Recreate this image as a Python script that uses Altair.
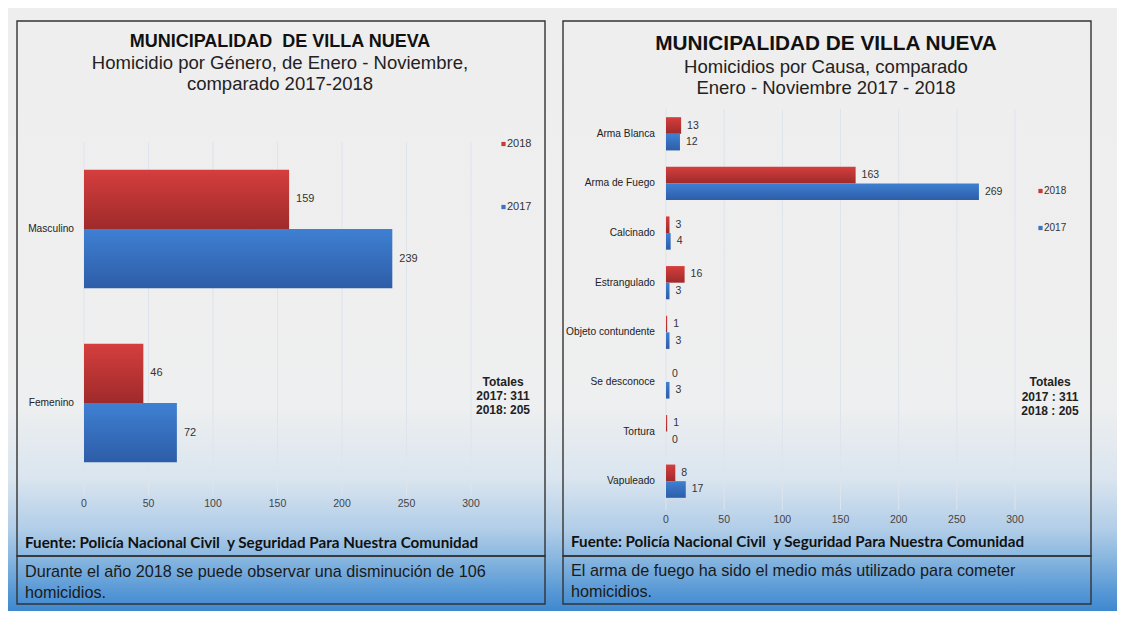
import altair as alt
import pandas as pd

# ---------------- data ----------------
genders = ["Masculino", "Femenino"]
gender_2018 = [159, 46]
gender_2017 = [239, 72]

causes = ["Arma Blanca", "Arma de Fuego", "Calcinado", "Estrangulado",
          "Objeto contundente", "Se desconoce", "Tortura", "Vapuleado"]
cause_2018 = [13, 163, 3, 16, 1, 0, 1, 8]
cause_2017 = [12, 269, 4, 3, 3, 3, 0, 17]

years = ["2018", "2017"]
x_ticks = [0, 50, 100, 150, 200, 250, 300]

title_left = "MUNICIPALIDAD\u00a0 DE VILLA NUEVA"
subtitle_left = ["Homicidio por Género, de Enero - Noviembre,", "comparado 2017-2018"]
title_right = "MUNICIPALIDAD DE VILLA NUEVA"
subtitle_right = ["Homicidios por Causa, comparado", "Enero - Noviembre 2017 - 2018"]
totals_left = ["Totales", "2017: 311", "2018: 205"]
totals_right = ["Totales", "2017 : 311", "2018 : 205"]
source_text = "Fuente: Policía Nacional Civil\u00a0 y Seguridad Para Nuestra Comunidad"
caption_left = ["Durante el año 2018 se puede observar una disminución de 106", "homicidios."]
caption_right = ["El arma de fuego ha sido el medio más utilizado para cometer", "homicidios."]

# ---------------- styles ----------------
FONT = "Liberation Sans"
RED = "#c73838"
BLUE = "#3a74c2"
W, H = 1109, 603

def vgrad(stops):
    return alt.LinearGradient(
        gradient="linear", x1=0, x2=0, y1=0, y2=1,
        stops=[alt.GradientStop(offset=o, color=c) for o, c in stops])

bar_fill = {
    "2018": vgrad([(0, "#d53e3e"), (1, "#9f2a2a")]),
    "2017": vgrad([(0, "#3f80d2"), (1, "#2d5da8")]),
}

one = pd.DataFrame({"k": [0]})


def deco_text(text, x, y, size, weight="normal", align="center", font=FONT, color="#1a1a1a"):
    return alt.Chart(one).mark_text(
        text=text, fontSize=size, fontWeight=weight, align=align, baseline="middle",
        font=font, color=color
    ).encode(x=alt.value(x), y=alt.value(y))


def box(x1, x2, y1, y2):
    return alt.Chart(one).mark_rect(fill="transparent", stroke="#333333", strokeWidth=1.4).encode(
        x=alt.value(x1), x2=alt.value(x2), y=alt.value(y1), y2=alt.value(y2))


def panel(cats, v2018, v2017, xr, yr, pad_in, grid_y2, tick_y, label_x,
          label_size, value_size, value_dx):
    df = pd.DataFrame({
        "cat": cats * 2,
        "year": ["2018"] * len(cats) + ["2017"] * len(cats),
        "value": v2018 + v2017,
    })
    xs = alt.Scale(domain=[0, 300], range=xr, nice=False, zero=True)
    ys = alt.Scale(domain=cats, range=yr, paddingInner=pad_in, paddingOuter=pad_in / 2)
    yo = alt.Scale(domain=years, paddingInner=0, paddingOuter=0)
    ticks_df = pd.DataFrame({"t": x_ticks})

    grid = alt.Chart(ticks_df).mark_rule(stroke="#dde4ec", strokeWidth=1).encode(
        x=alt.X("t:Q", scale=xs, axis=None),
        y=alt.value(yr[0]), y2=alt.value(grid_y2))
    tick_text = alt.Chart(ticks_df).mark_text(
        fontSize=10.5, color="#444444", font=FONT, baseline="middle").encode(
        x=alt.X("t:Q", scale=xs, axis=None), y=alt.value(tick_y), text="t:Q")

    layers = [grid, tick_text]
    for yv in years:
        layers.append(
            alt.Chart(df).transform_filter(alt.datum.year == yv).mark_bar(
                fill=bar_fill[yv]).encode(
                x=alt.X("value:Q", scale=xs, axis=None),
                y=alt.Y("cat:N", scale=ys, axis=None),
                yOffset=alt.YOffset("year:N", scale=yo)))
    layers.append(
        alt.Chart(df).mark_text(align="left", baseline="middle", dx=value_dx,
                                fontSize=value_size, color="#333333", font=FONT).encode(
            x=alt.X("value:Q", scale=xs, axis=None),
            y=alt.Y("cat:N", scale=ys, axis=None),
            yOffset=alt.YOffset("year:N", scale=yo),
            text="value:Q"))
    layers.append(
        alt.Chart(pd.DataFrame({"cat": cats})).mark_text(
            align="right", baseline="middle", fontSize=label_size, color="#222222",
            font=FONT).encode(
            x=alt.value(label_x),
            y=alt.Y("cat:N", scale=ys, axis=None),
            text="cat:N"))
    return alt.layer(*layers)


def legend(x, ys_, size):
    out = []
    for yv, yy in zip(years, ys_):
        out.append(alt.Chart(one).mark_square(size=18, color=RED if yv == "2018" else BLUE,
                                              opacity=1).encode(
            x=alt.value(x), y=alt.value(yy)))
        out.append(deco_text(yv, x + 3.5, yy, size, align="left", color="#333333"))
    return out


# background
bg = alt.Chart(one).mark_rect(fill=vgrad([
    (0.0, "#eeeeee"), (0.66, "#eeeff0"), (0.78, "#dae5ef"),
    (0.865, "#b1cde8"), (0.915, "#86b5df"), (0.97, "#5597d5"), (1.0, "#3f88cf")])).encode(
    x=alt.value(0), x2=alt.value(W), y=alt.value(0), y2=alt.value(H))

left = panel(genders, gender_2018, gender_2017, xr=[76, 463], yr=[134, 482], pad_in=0.32,
             grid_y2=488, tick_y=496, label_x=66, label_size=10.2, value_size=11, value_dx=7)
right = panel(causes, cause_2018, cause_2017, xr=[658, 1007], yr=[101, 498], pad_in=0.33,
              grid_y2=502, tick_y=512, label_x=647, label_size=10.2, value_size=10.5, value_dx=6)

texts = []
# left titles
texts.append(deco_text(title_left, 272, 34, 18, weight="bold", color="#111111"))
for i, s in enumerate(subtitle_left):
    texts.append(deco_text(s, 272, 55 + 21 * i, 18.5, color="#222222"))
# right titles
texts.append(deco_text(title_right, 818, 36, 20.8, weight="bold", color="#111111"))
for i, s in enumerate(subtitle_right):
    texts.append(deco_text(s, 818, 59 + 21 * i, 18.5, color="#222222"))
# totals
for i, s in enumerate(totals_left):
    texts.append(deco_text(s, 495, 374 + 14 * i, 12, weight="bold", color="#222222"))
for i, s in enumerate(totals_right):
    texts.append(deco_text(s, 1042, 374 + 14.5 * i, 12, weight="bold", color="#222222"))
# sources
texts.append(deco_text(source_text, 17, 535, 15.2, weight="bold", align="left", font="Lato",
                       color="#111111"))
texts.append(deco_text(source_text, 563, 534, 15.2, weight="bold", align="left", font="Lato",
                       color="#111111"))
# captions
for i, s in enumerate(caption_left):
    texts.append(deco_text(s, 17, 564 + 21 * i, 16.2, align="left", color="#1a1a1a"))
for i, s in enumerate(caption_right):
    texts.append(deco_text(s, 563, 563 + 21 * i, 16.2, align="left", color="#1a1a1a"))

legends = legend(495.5, [136, 199], 11) + legend(1032.5, [183, 220], 10)

boxes = [box(9, 537, 13, 548), box(9, 537, 548, 596),
         box(555, 1083, 13, 548), box(555, 1083, 548, 596)]

chart = alt.layer(bg, *boxes, left, right, *texts, *legends).resolve_scale(
    x="independent", y="independent", yOffset="independent"
).properties(
    width=W, height=H, padding=0, autosize=alt.AutoSizeParams(type="none")
).configure_view(stroke="transparent")

chart.save("out.html", embed_options={"renderer": "svg", "actions": False})
